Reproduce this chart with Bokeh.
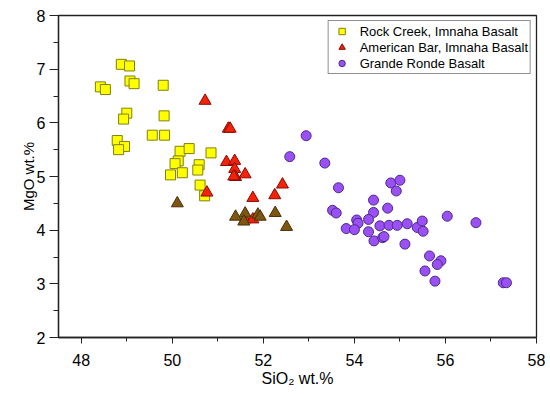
from bokeh.plotting import figure
from bokeh.models import FixedTicker
from bokeh.embed import file_html
from bokeh.resources import INLINE

# ---- data ----
rc_sio2 = [48.88, 49.06, 48.42, 48.53, 49.07, 49.16, 49.80, 49.00, 48.93, 49.82,
           48.79, 48.95, 48.82, 49.56, 49.83, 50.17, 50.37, 50.85, 50.13, 50.06,
           49.96, 50.22, 50.59, 50.56, 50.61, 50.71]
rc_mgo = [7.09, 7.06, 6.67, 6.62, 6.78, 6.73, 6.70, 6.18, 6.07, 6.13,
          5.67, 5.56, 5.50, 5.77, 5.77, 5.47, 5.52, 5.44, 5.29, 5.24,
          5.03, 5.07, 5.22, 5.12, 4.84, 4.64]

ab_sio2 = [50.72, 51.23, 51.27, 51.19, 51.37, 51.37, 51.39, 51.60, 51.35, 50.76,
           51.77, 52.42, 52.25, 51.60, 51.77]
ab_mgo = [6.41, 5.89, 5.89, 5.27, 5.29, 5.14, 4.99, 5.04, 5.00, 4.70,
          4.60, 4.85, 4.65, 4.20, 4.20]

ab2_sio2 = [50.11, 51.39, 51.60, 51.88, 51.93, 52.26, 51.57, 52.51]
ab2_mgo = [4.50, 4.25, 4.31, 4.29, 4.25, 4.32, 4.16, 4.06]

gr_sio2 = [52.94, 52.58, 53.35, 53.65, 54.80, 55.00, 54.92, 54.42, 54.73, 54.42,
           53.52, 53.60, 54.05, 54.08, 54.31, 53.82, 54.00, 54.31, 54.56, 54.76,
           54.94, 55.16, 55.38, 55.49, 55.51, 54.43, 54.62, 54.65, 55.11, 56.04,
           56.67, 55.65, 55.90, 55.82, 55.55, 55.77, 57.27, 57.34]
gr_mgo = [5.76, 5.37, 5.25, 4.79, 4.88, 4.93, 4.73, 4.56, 4.41, 4.33,
          4.37, 4.32, 4.19, 4.13, 4.20, 4.03, 4.01, 3.97, 4.08, 4.09,
          4.09, 4.12, 4.05, 4.17, 3.98, 3.80, 3.86, 3.88, 3.74, 4.26,
          4.14, 3.52, 3.43, 3.36, 3.24, 3.05, 3.02, 3.02]

x_ticks = [48, 50, 52, 54, 56, 58]
x_minor = [49, 51, 53, 55, 57]
y_ticks = [2, 3, 4, 5, 6, 7, 8]
y_minor = [2.5, 3.5, 4.5, 5.5, 6.5, 7.5]

FONT = "Liberation Sans"

p = figure(width=550, height=398, x_range=(47.5, 58), y_range=(2, 8),
           output_backend="svg", toolbar_location=None,
           min_border_left=58, min_border_right=14, min_border_top=15, min_border_bottom=61)

p.scatter(rc_sio2, rc_mgo, marker="square", size=10, fill_color="#FFFF00",
          line_color="#80800A", line_width=1, legend_label="Rock Creek, Imnaha Basalt")
p.scatter(ab_sio2, ab_mgo, marker="triangle", size=12, fill_color="#F5220A",
          line_color="#8A0A00", line_width=1, legend_label="American Bar, Imnaha Basalt")
p.scatter(ab2_sio2, ab2_mgo, marker="triangle", size=12, fill_color="#7D5712",
          line_color="#4A3005", line_width=1)
p.scatter(gr_sio2, gr_mgo, marker="circle", size=10, fill_color="#9B50F5",
          line_color="#4A2A8A", line_width=1, legend_label="Grande Ronde Basalt")

p.xgrid.visible = False
p.ygrid.visible = False
p.outline_line_color = "#222222"
p.outline_line_width = 1.3

p.xaxis.ticker = FixedTicker(ticks=x_ticks, minor_ticks=x_minor)
p.yaxis.ticker = FixedTicker(ticks=y_ticks, minor_ticks=y_minor)

for ax in (p.xaxis, p.yaxis):
    ax.axis_line_color = "#222222"
    ax.axis_line_width = 1.3
    ax.major_tick_line_color = "#222222"
    ax.minor_tick_line_color = "#222222"
    ax.major_tick_in = 0
    ax.minor_tick_in = 0
    ax.major_label_text_font = FONT
    ax.major_label_text_font_size = "16px"
    ax.major_label_text_color = "black"
    ax.axis_label_text_font = FONT
    ax.axis_label_text_font_style = "normal"
    ax.axis_label_text_color = "black"

p.xaxis.axis_label_text_font_size = "16px"
p.yaxis.axis_label_text_font_size = "15px"
p.xaxis.major_tick_out = 6
p.xaxis.minor_tick_out = 4
p.yaxis.major_tick_out = 9
p.yaxis.minor_tick_out = 5
p.xaxis.major_label_standoff = 10
p.yaxis.major_label_standoff = 4
p.xaxis.axis_label = "SiO\u2082 wt.%"
p.yaxis.axis_label = "MgO wt.%"
p.xaxis.axis_label_standoff = 1
p.yaxis.axis_label_standoff = -3

leg = p.legend[0]
leg.location = "top_right"
leg.margin = 5
leg.padding = 2
leg.spacing = 0
leg.glyph_width = 22
leg.glyph_height = 16
leg.label_height = 16
leg.label_standoff = 7
leg.label_text_font = FONT
leg.label_text_font_size = "13px"
leg.label_text_color = "black"
leg.border_line_color = "#222222"
leg.border_line_width = 1
leg.background_fill_alpha = 1

open("out.html", "w").write(file_html(p, INLINE))
